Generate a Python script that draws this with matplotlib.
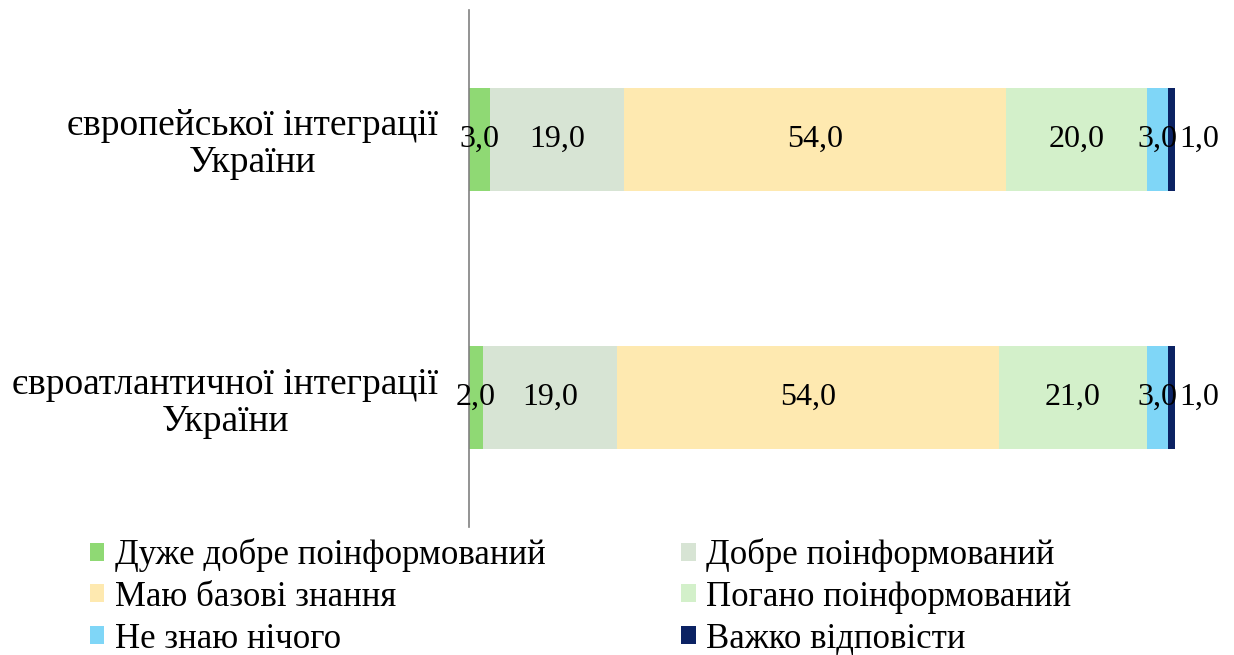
import matplotlib.pyplot as plt

plt.rcParams['font.family'] = ['Liberation Serif', 'DejaVu Serif']

categories = ["європейської інтеграції\nУкраїни", "євроатлантичної інтеграції\nУкраїни"]
series_names = ["Дуже добре поінформований", "Добре поінформований",
                "Маю базові знання", "Погано поінформований",
                "Не знаю нічого", "Важко відповісти"]
values = [
    [3.0, 2.0],
    [19.0, 19.0],
    [54.0, 54.0],
    [20.0, 21.0],
    [3.0, 3.0],
    [1.0, 1.0],
]
colors = ["#8FD974", "#D7E4D4", "#FEE9B0", "#D3F0CA", "#7FD6F7", "#0B2263"]

fig = plt.figure(figsize=(12.34, 6.55), dpi=100)
ax = fig.add_axes([469 / 1234, 1 - 527 / 655, (1175 - 469) / 1234, 517 / 655])

ypos = [0, 1]
left = [0.0, 0.0]
handles = []
for i, (name, vals) in enumerate(zip(series_names, values)):
    bars = ax.barh(ypos, vals, left=left, height=0.4, color=colors[i], label=name)
    handles.append(bars)
    for j, v in enumerate(vals):
        xc = left[j] + v / 2
        off = 20 if i == len(series_names) - 1 else 0
        ax.annotate(f"{v:.1f}".replace(".", ","), (xc, ypos[j]), xytext=(off, 0),
                    textcoords="offset points", ha="center", va="center", fontsize=23)
    left = [l + v for l, v in zip(left, vals)]

ax.set_xlim(0, 100)
ax.set_ylim(1.5, -0.5)
ax.set_yticks(ypos)
ax.set_yticklabels(categories, fontsize=27, multialignment="center", linespacing=1.1)
ax.tick_params(axis="y", length=0, pad=22)
ax.set_xticks([])
for s in ["top", "right", "bottom"]:
    ax.spines[s].set_visible(False)
ax.spines["left"].set_color("#808080")
ax.spines["left"].set_linewidth(1.2)

# legend filled row by row, like the original
order = [0, 2, 4, 1, 3, 5]
fig.legend([handles[k] for k in order], [series_names[k] for k in order],
           loc="lower left", bbox_to_anchor=(76 / 1234, -0.022), ncol=2, frameon=False,
           fontsize=25, handlelength=0.42, handleheight=0.42, handletextpad=0.3,
           columnspacing=3.9, labelspacing=0.25, borderaxespad=0)

fig.savefig("out.png", dpi=100)
